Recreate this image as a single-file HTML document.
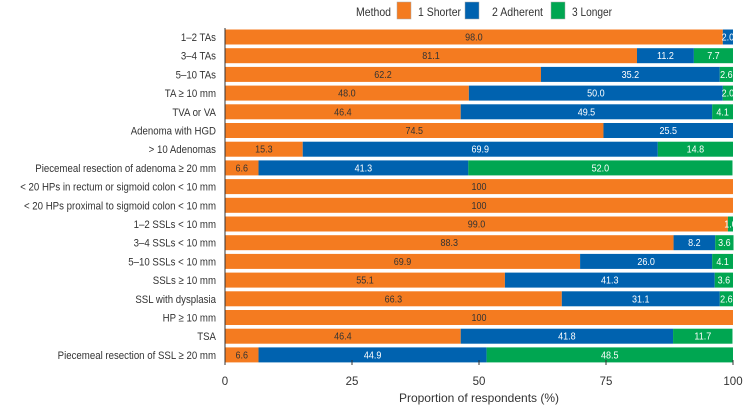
<!DOCTYPE html>
<html><head><meta charset="utf-8"><style>
body{margin:0;background:#fff;font-family:"Liberation Sans",sans-serif;}
svg text{font-family:"Liberation Sans",sans-serif;}
</style></head><body>
<svg id="c" width="744" height="406" xmlns="http://www.w3.org/2000/svg">
<g>
<text x="356" y="16" font-size="12" fill="#333" textLength="35" lengthAdjust="spacingAndGlyphs">Method</text>
<rect x="397" y="2" width="14" height="17" fill="#F47B20" stroke="#aaa" stroke-width="0.5"/>
<text x="418" y="16" font-size="12" fill="#333" textLength="43" lengthAdjust="spacingAndGlyphs">1 Shorter</text>
<rect x="465" y="2" width="14" height="17" fill="#0062AF" stroke="#aaa" stroke-width="0.5"/>
<text x="492" y="16" font-size="12" fill="#333" textLength="51" lengthAdjust="spacingAndGlyphs">2 Adherent</text>
<rect x="551" y="2" width="14" height="17" fill="#00A651" stroke="#aaa" stroke-width="0.5"/>
<text x="572" y="16" font-size="12" fill="#333" textLength="40" lengthAdjust="spacingAndGlyphs">3 Longer</text>
</g>
<g id="plot"></g>
</svg>
<script>
const categories=["1–2 TAs","3–4 TAs","5–10 TAs","TA ≥ 10 mm","TVA or VA","Adenoma with HGD","> 10 Adenomas","Piecemeal resection of adenoma ≥ 20 mm","< 20 HPs in rectum or sigmoid colon < 10 mm","< 20 HPs proximal to sigmoid colon < 10 mm","1–2 SSLs < 10 mm","3–4 SSLs < 10 mm","5–10 SSLs < 10 mm","SSLs ≥ 10 mm","SSL with dysplasia","HP ≥ 10 mm","TSA","Piecemeal resection of SSL ≥ 20 mm"];
const shorter=[98.0,81.1,62.2,48.0,46.4,74.5,15.3,6.6,100,100,99.0,88.3,69.9,55.1,66.3,100,46.4,6.6];
const adherent=[2.0,11.2,35.2,50.0,49.5,25.5,69.9,41.3,0,0,0,8.2,26.0,41.3,31.1,0,41.8,44.9];
const longer=[0,7.7,2.6,2.0,4.1,0,14.8,52.0,0,0,1.0,3.6,4.1,3.6,2.6,0,11.7,48.5];
const xTicks=[0,25,50,75,100];
const NS="http://www.w3.org/2000/svg";
const x0=225,x1=733,yTop=37,step=18.7,bh=15;
const xs=v=>x0+(x1-x0)*v/100;
const ys=i=>yTop+i*step;
const g=document.getElementById('plot');
function mk(t,a){const e=document.createElementNS(NS,t);for(const k in a)e.setAttribute(k,a[k]);g.appendChild(e);return e;}
const series=[{d:shorter,c:"#F47B20",t:"#333",n:"shorter"},{d:adherent,c:"#0062AF",t:"#fff",n:"adherent"},{d:longer,c:"#00A651",t:"#fff",n:"longer"}];
categories.forEach((cat,i)=>{
  const cy=ys(i);
  const lab=mk('text',{x:0,y:0,'font-size':11.5,fill:'#333','text-anchor':'end',transform:'translate(216,'+(cy+4)+') scale(0.84,1)'});
  lab.textContent=cat;
  
  
  let acc=0;
  series.forEach(s=>{
    const v=s.d[i]; if(v<=0)return;
    const r=mk('rect',{x:xs(acc),y:cy-bh/2,width:xs(acc+v)-xs(acc),height:bh,fill:s.c});
    
    
    const cx=(xs(acc)+xs(acc+v))/2;
    const tx=mk('text',{x:0,y:0,'font-size':10,fill:s.t,'text-anchor':'middle',transform:'translate('+cx+','+(cy+3.5)+') scale(0.9,1)'});
    tx.textContent=v===100?'100':v.toFixed(1);
    
    
    acc+=v;
  });
});
const ax=mk('line',{x1:x0,y1:28,x2:x0,y2:364,stroke:'#333','stroke-width':1});


xTicks.forEach(t=>{
  const l=mk('line',{x1:xs(t),y1:360,x2:xs(t),y2:365,stroke:'#333'});
  
  
  const tt=mk('text',{x:xs(t),y:385,'font-size':11.5,fill:'#333','text-anchor':'middle'});
  tt.textContent=t;
  
  
});
const xt=mk('text',{x:(x0+x1)/2,y:402,'font-size':12,fill:'#333','text-anchor':'middle'});
xt.textContent='Proportion of respondents (%)';


</script>
</body></html>
